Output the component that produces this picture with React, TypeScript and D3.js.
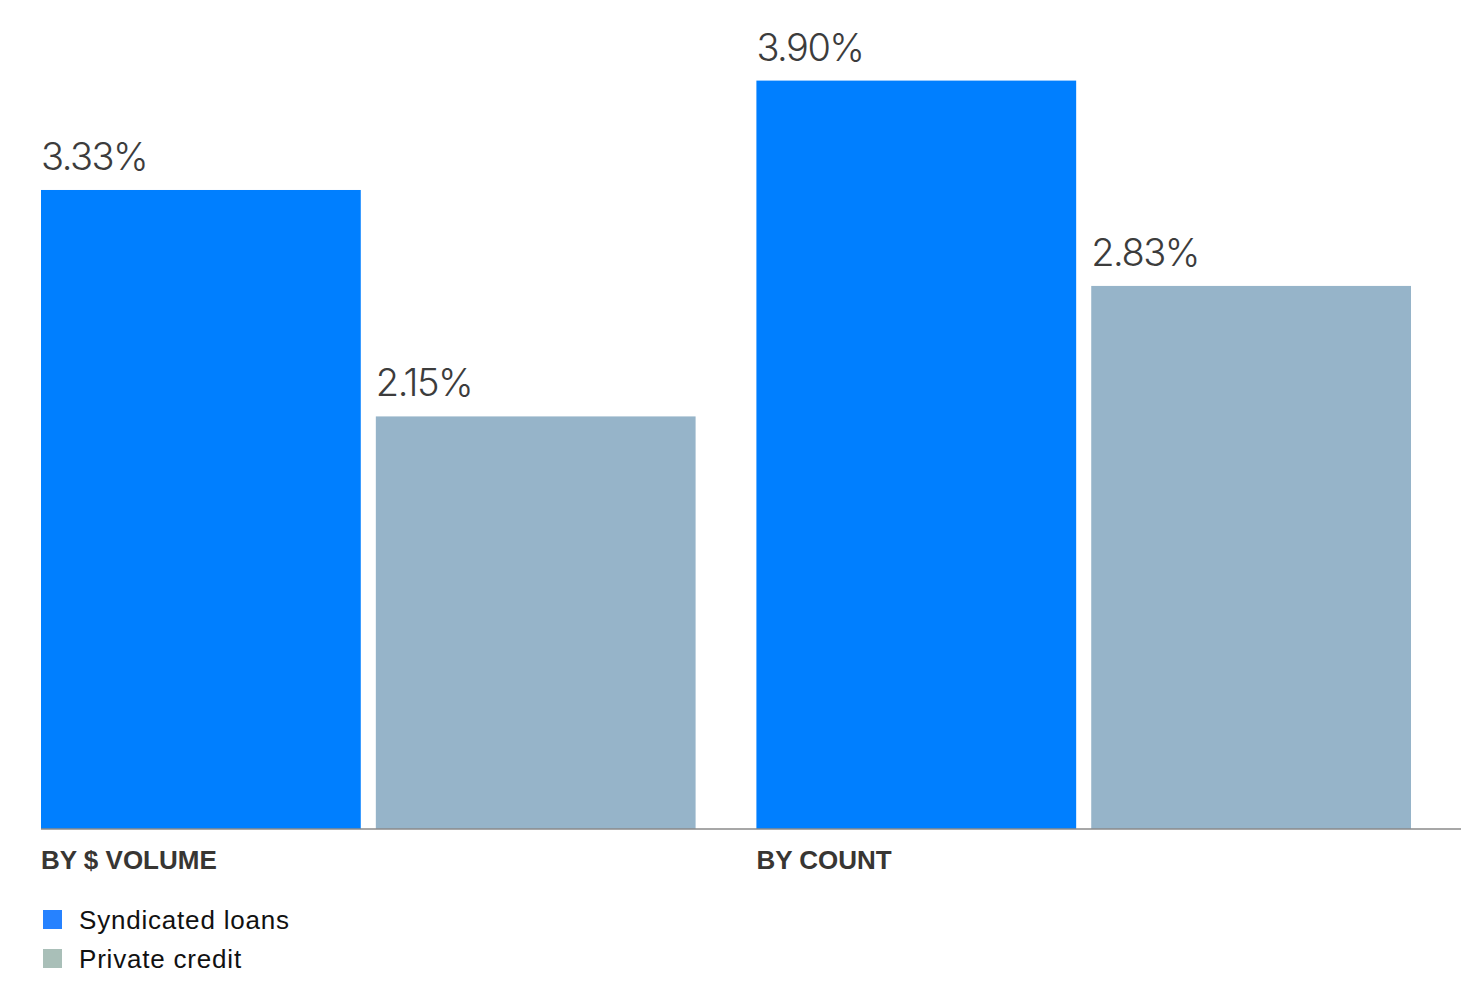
import React from 'react';
import * as d3 from 'd3';

// Share of loans in default (%), by measure
const groups = ['BY $ VOLUME', 'BY COUNT'];
const seriesNames = ['Syndicated loans', 'Private credit'];
const syndicated = [3.33, 3.9];
const privateCredit = [2.15, 2.83];
const valueLabels = [['3.33%', '2.15%'], ['3.90%', '2.83%']];

const barColors = ['#007fff', '#96b4c9'];
const legendColors = ['#2682ff', '#a9bfb8'];

const W = 1461;
const H = 991;

const App: React.FC = () => {
  const margin = { left: 41, right: 50, baseline: 829 };

  const x0 = d3.scaleBand<string>()
    .domain(groups)
    .range([margin.left, W - margin.right])
    .paddingInner(0.085)
    .paddingOuter(0);

  const x1 = d3.scaleBand<string>()
    .domain(seriesNames)
    .range([0, x0.bandwidth()])
    .paddingInner(0.045);

  const y = d3.scaleLinear()
    .domain([0, 4.32])
    .range([margin.baseline, 0]);

  const values = [syndicated, privateCredit];

  return (
    <svg
      width={W}
      height={H}
      style={{ position: 'absolute', left: 0, top: 0, background: '#fff' }}
      fontFamily="'Liberation Sans', Arial, sans-serif"
    >
      {groups.map((g, gi) => (
        <g key={g} transform={`translate(${x0(g)},0)`}>
          {seriesNames.map((s, si) => {
            const v = values[si][gi];
            const bx = x1(s) as number;
            return (
              <g key={s}>
                <rect
                  x={bx}
                  y={y(v)}
                  width={x1.bandwidth()}
                  height={y(0) - y(v)}
                  fill={barColors[si]}
                />
                <text
                  x={bx}
                  y={y(v) - 20}
                  fontSize={38}
                  fontFamily="Inter, 'Liberation Sans', sans-serif"
                  fontWeight={300}
                  fill="#3c3c3c"
                  letterSpacing={-1.5}
                >
                  {valueLabels[gi][si]}
                </text>
              </g>
            );
          })}
          <text
            x={0}
            y={869}
            fontSize={26}
            fontWeight="bold"
            fill="#383633"
            letterSpacing={0}
          >
            {g}
          </text>
        </g>
      ))}

      {/* baseline */}
      <line
        x1={margin.left}
        x2={W}
        y1={y(0)}
        y2={y(0)}
        stroke="#8a8a8a"
        strokeWidth={1.5}
      />

      {/* legend */}
      {seriesNames.map((s, i) => (
        <g key={s} transform={`translate(43,${910 + i * 39})`}>
          <rect width={19} height={19} fill={legendColors[i]} />
          <text x={36} y={19} fontSize={26} fill="#111" letterSpacing={0.8}>
            {s}
          </text>
        </g>
      ))}
    </svg>
  );
};

export default App;
